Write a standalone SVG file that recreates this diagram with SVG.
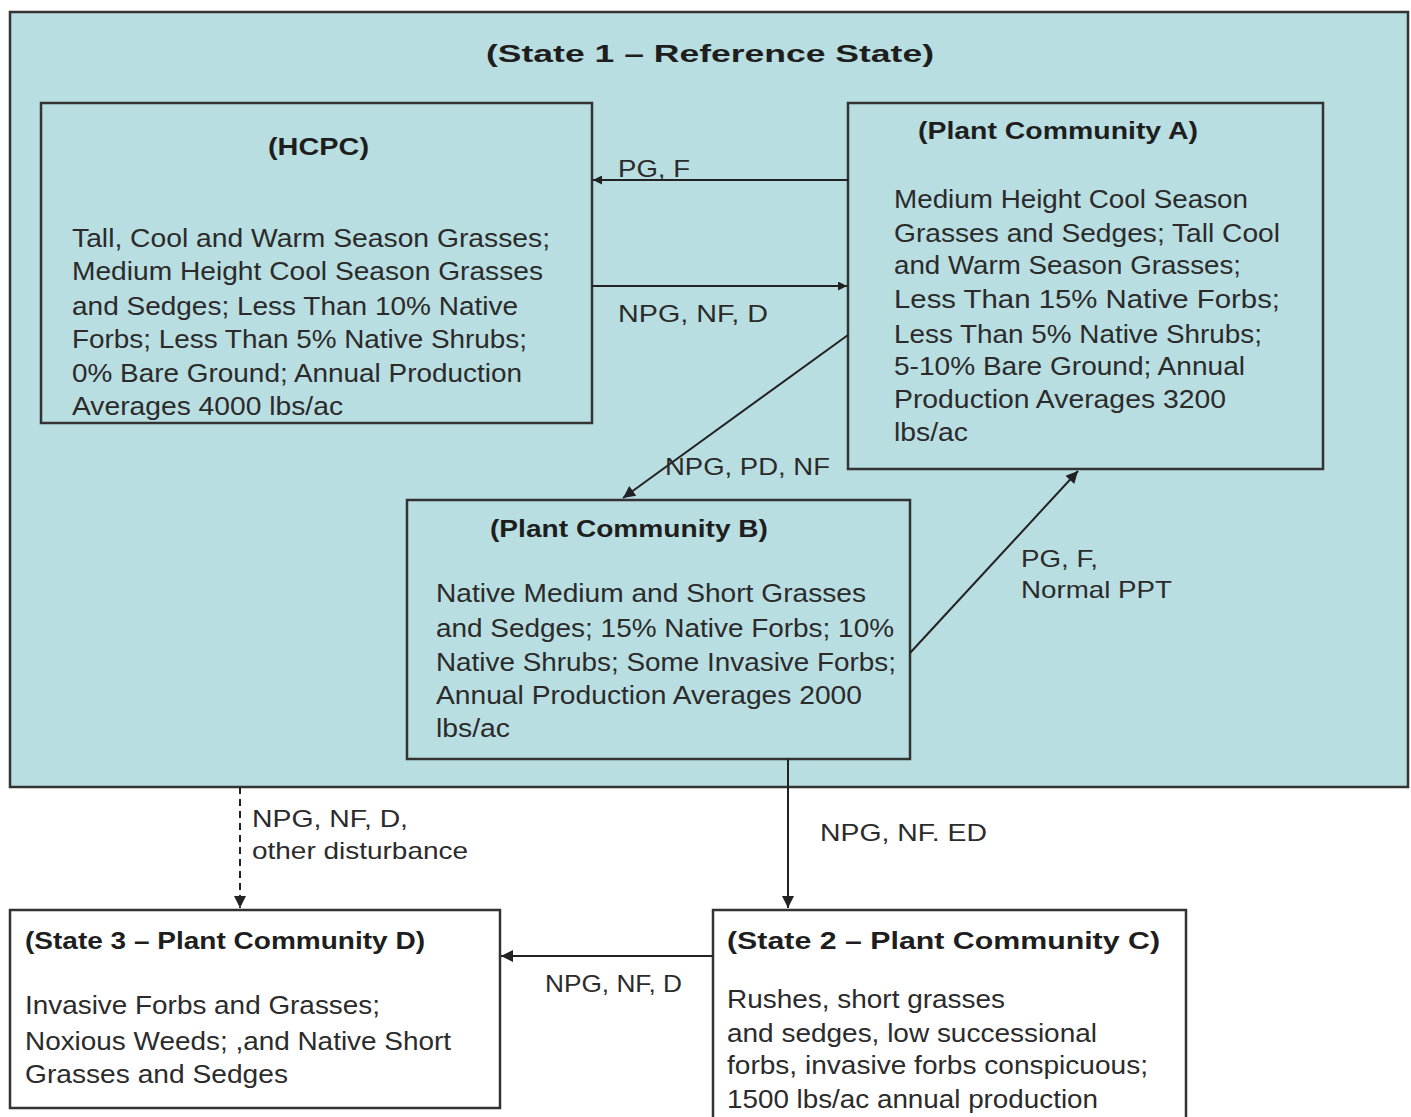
<svg xmlns="http://www.w3.org/2000/svg" width="1411" height="1117" viewBox="0 0 1411 1117">
<defs>
<style>
.box{stroke:#333;stroke-width:2.5}
.teal{fill:#b9dee1}
.white{fill:#ffffff}
.t{font-family:"Liberation Sans",Arial,sans-serif;font-size:25px;fill:#2b2b2b}
.h{font-family:"Liberation Sans",Arial,sans-serif;font-size:23px;font-weight:bold;fill:#1e1e1e}
.lbl{font-family:"Liberation Sans",Arial,sans-serif;font-size:24px;fill:#2b2b2b}
.con{stroke:#222;stroke-width:2;fill:none}
</style>
<marker id="ah" viewBox="0 0 10 10" refX="10" refY="5" markerWidth="10" markerHeight="9" markerUnits="userSpaceOnUse" orient="auto">
<path d="M0,0 L10,5 L0,10 z" fill="#222"/>
</marker>
<marker id="ah2" viewBox="0 0 10 10" refX="10" refY="5" markerWidth="14" markerHeight="12" markerUnits="userSpaceOnUse" orient="auto">
<path d="M0,0 L10,5 L0,10 z" fill="#222"/>
</marker>
</defs>
<rect width="1411" height="1117" fill="#ffffff"/>

<g id="state1">
<rect class="box teal" x="10" y="12" width="1398" height="775"/>
<text class="h" x="486" y="62" font-size="30" textLength="448" lengthAdjust="spacingAndGlyphs">(State 1 – Reference State)</text>
</g>

<g id="hcpc">
<rect class="box teal" x="41" y="103" width="551" height="320"/>
<text class="h" x="268" y="155" textLength="101" lengthAdjust="spacingAndGlyphs">(HCPC)</text>
<text class="t" x="72" y="247" textLength="478" lengthAdjust="spacingAndGlyphs">Tall, Cool and Warm Season Grasses;</text>
<text class="t" x="72" y="280" textLength="471" lengthAdjust="spacingAndGlyphs">Medium Height Cool Season Grasses</text>
<text class="t" x="72" y="315" textLength="446" lengthAdjust="spacingAndGlyphs">and Sedges; Less Than 10% Native</text>
<text class="t" x="72" y="348" textLength="455" lengthAdjust="spacingAndGlyphs">Forbs; Less Than 5% Native Shrubs;</text>
<text class="t" x="72" y="382" textLength="450" lengthAdjust="spacingAndGlyphs">0% Bare Ground; Annual Production</text>
<text class="t" x="72" y="415" textLength="271" lengthAdjust="spacingAndGlyphs">Averages 4000 lbs/ac</text>
</g>

<g id="pcA">
<rect class="box teal" x="848" y="103" width="475" height="366"/>
<text class="h" x="918" y="139" textLength="280" lengthAdjust="spacingAndGlyphs">(Plant Community A)</text>
<text class="t" x="894" y="208" textLength="354" lengthAdjust="spacingAndGlyphs">Medium Height Cool Season</text>
<text class="t" x="894" y="242" textLength="386" lengthAdjust="spacingAndGlyphs">Grasses and Sedges; Tall Cool</text>
<text class="t" x="894" y="274" textLength="347" lengthAdjust="spacingAndGlyphs">and Warm Season Grasses;</text>
<text class="t" x="894" y="308" textLength="386" lengthAdjust="spacingAndGlyphs">Less Than 15% Native Forbs;</text>
<text class="t" x="894" y="343" textLength="368" lengthAdjust="spacingAndGlyphs">Less Than 5% Native Shrubs;</text>
<text class="t" x="894" y="375" textLength="351" lengthAdjust="spacingAndGlyphs">5-10% Bare Ground; Annual</text>
<text class="t" x="894" y="408" textLength="332" lengthAdjust="spacingAndGlyphs">Production Averages 3200</text>
<text class="t" x="894" y="441" textLength="74" lengthAdjust="spacingAndGlyphs">lbs/ac</text>
</g>

<g id="pcB">
<rect class="box teal" x="407" y="500" width="503" height="259"/>
<text class="h" x="490" y="537" textLength="278" lengthAdjust="spacingAndGlyphs">(Plant Community B)</text>
<text class="t" x="436" y="602" textLength="430" lengthAdjust="spacingAndGlyphs">Native Medium and Short Grasses</text>
<text class="t" x="436" y="637" textLength="458" lengthAdjust="spacingAndGlyphs">and Sedges; 15% Native Forbs; 10%</text>
<text class="t" x="436" y="671" textLength="460" lengthAdjust="spacingAndGlyphs">Native Shrubs; Some Invasive Forbs;</text>
<text class="t" x="436" y="704" textLength="426" lengthAdjust="spacingAndGlyphs">Annual Production Averages 2000</text>
<text class="t" x="436" y="737" textLength="74" lengthAdjust="spacingAndGlyphs">lbs/ac</text>
</g>

<g id="state3">
<rect class="box white" x="10" y="910" width="490" height="198"/>
<text class="h" x="25" y="949" textLength="400" lengthAdjust="spacingAndGlyphs">(State 3 – Plant Community D)</text>
<text class="t" x="25" y="1014" textLength="355" lengthAdjust="spacingAndGlyphs">Invasive Forbs and Grasses;</text>
<text class="t" x="25" y="1050" textLength="426" lengthAdjust="spacingAndGlyphs">Noxious Weeds; ,and Native Short</text>
<text class="t" x="25" y="1083" textLength="263" lengthAdjust="spacingAndGlyphs">Grasses and Sedges</text>
</g>

<g id="state2">
<rect class="box white" x="713" y="910" width="473" height="220"/>
<text class="h" x="727" y="949" font-size="25" textLength="433" lengthAdjust="spacingAndGlyphs">(State 2 – Plant Community C)</text>
<text class="t" x="727" y="1008" textLength="278" lengthAdjust="spacingAndGlyphs">Rushes, short grasses</text>
<text class="t" x="727" y="1042" textLength="370" lengthAdjust="spacingAndGlyphs">and sedges, low successional</text>
<text class="t" x="727" y="1074" textLength="421" lengthAdjust="spacingAndGlyphs">forbs, invasive forbs conspicuous;</text>
<text class="t" x="727" y="1108" textLength="371" lengthAdjust="spacingAndGlyphs">1500 lbs/ac annual production</text>
</g>

<g id="connectors">
<line class="con" x1="848" y1="180" x2="593" y2="180" marker-end="url(#ah)"/>
<line class="con" x1="592" y1="286" x2="847" y2="286" marker-end="url(#ah)"/>
<line class="con" x1="848" y1="335" x2="623" y2="498" marker-end="url(#ah2)"/>
<line class="con" x1="910" y1="653" x2="1078" y2="471" marker-end="url(#ah2)"/>
<line class="con" x1="788" y1="759" x2="788" y2="908" marker-end="url(#ah2)"/>
<line class="con" x1="240" y1="787" x2="240" y2="908" stroke-dasharray="7,5" marker-end="url(#ah2)"/>
<line class="con" x1="713" y1="956" x2="501" y2="956" marker-end="url(#ah2)"/>
<text class="lbl" x="618" y="177" textLength="72" lengthAdjust="spacingAndGlyphs">PG, F</text>
<text class="lbl" x="618" y="322" textLength="150" lengthAdjust="spacingAndGlyphs">NPG, NF, D</text>
<text class="lbl" x="665" y="475" textLength="165" lengthAdjust="spacingAndGlyphs">NPG, PD, NF</text>
<text class="lbl" x="1021" y="567" textLength="77" lengthAdjust="spacingAndGlyphs">PG, F,</text>
<text class="lbl" x="1021" y="598" textLength="151" lengthAdjust="spacingAndGlyphs">Normal PPT</text>
<text class="lbl" x="820" y="841" textLength="167" lengthAdjust="spacingAndGlyphs">NPG, NF. ED</text>
<text class="lbl" x="252" y="827" textLength="156" lengthAdjust="spacingAndGlyphs">NPG, NF, D,</text>
<text class="lbl" x="252" y="859" textLength="216" lengthAdjust="spacingAndGlyphs">other disturbance</text>
<text class="lbl" x="545" y="992" font-size="21" textLength="137" lengthAdjust="spacingAndGlyphs">NPG, NF, D</text>
</g>
</svg>
